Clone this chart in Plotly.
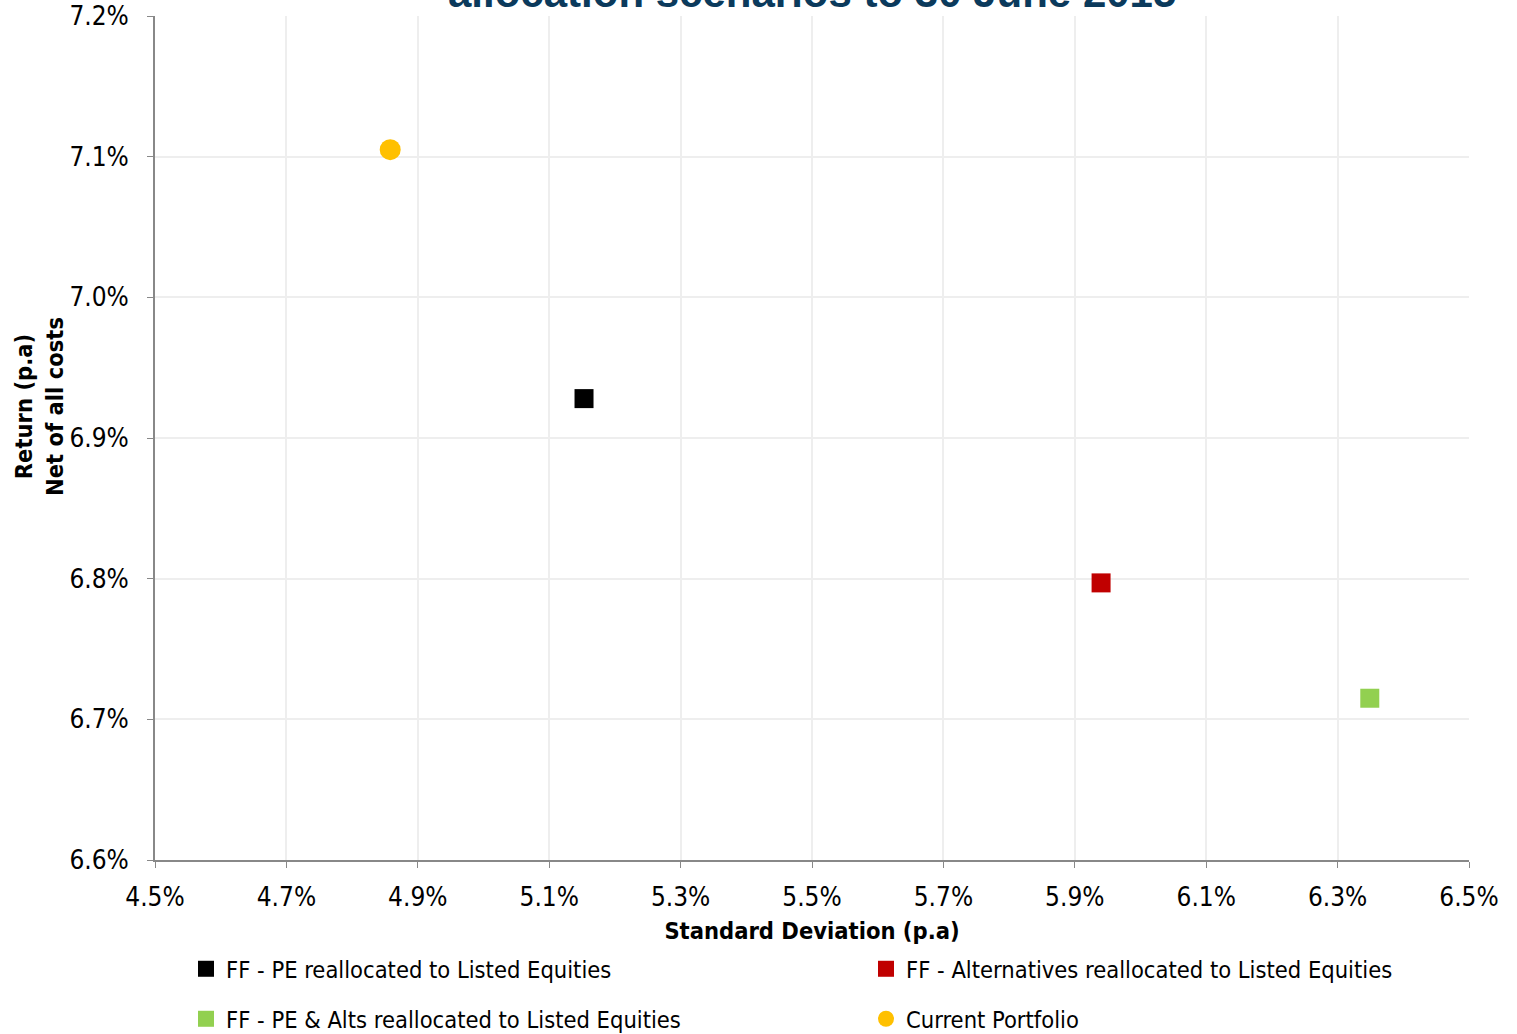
import plotly.graph_objects as go

# Data (percent)
series_names = [
    "FF - PE reallocated to Listed Equities",
    "FF - Alternatives reallocated to Listed Equities",
    "FF - PE & Alts reallocated to Listed Equities",
    "Current Portfolio",
]
std_dev = [5.153, 5.940, 6.349, 4.858]
returns = [6.928, 6.797, 6.715, 7.105]
colors = ["#000000", "#C00000", "#92D050", "#FFC000"]
symbols = ["square", "square", "square", "circle"]
sizes = [19, 19, 19, 21]

x_ticks = [4.5, 4.7, 4.9, 5.1, 5.3, 5.5, 5.7, 5.9, 6.1, 6.3, 6.5]
y_ticks = [6.6, 6.7, 6.8, 6.9, 7.0, 7.1, 7.2]

FONT = "Tahoma, 'DejaVu Sans Condensed', 'DejaVu Sans', sans-serif"
W, H = 1517, 1034

# legend slot positions (container pixels): (left x, row center y)
legend_ids = ["legend", "legend2", "legend3", "legend4"]
legend_pos = [(186, 969), (866, 969), (186, 1019), (866, 1019)]

fig = go.Figure()
for name, x, y, c, s, sz, lg in zip(series_names, std_dev, returns, colors, symbols, sizes, legend_ids):
    fig.add_trace(go.Scatter(
        x=[x], y=[y], mode="markers", name=name,
        marker=dict(color=c, symbol=s, size=sz, line=dict(width=0)),
        legend=lg,
    ))

legend_layout = {}
for lg, (lx, ly) in zip(legend_ids, legend_pos):
    legend_layout[lg] = dict(
        orientation="h", xref="container", yref="container",
        x=lx / W, y=1 - ly / H, xanchor="left", yanchor="middle",
        font=dict(family=FONT, size=23.5, color="#000000"),
        bgcolor="rgba(0,0,0,0)",
    )

fig.update_layout(
    width=W, height=H,
    margin=dict(l=155, r=48, t=16, b=174, autoexpand=False),
    paper_bgcolor="white", plot_bgcolor="white",
    font=dict(family=FONT, size=24, color="#000000"),
    showlegend=True,
    xaxis=dict(
        range=[4.5, 6.5], tickvals=x_ticks, ticktext=[f"{v:.1f}%" for v in x_ticks],
        showgrid=True, gridcolor="#EEEEEE", gridwidth=2,
        showline=True, linecolor="#888888", linewidth=2,
        ticks="outside", ticklen=6, tickcolor="#888888",
        tickfont=dict(family=FONT, size=26), ticklabelstandoff=7,
        zeroline=False, automargin=False,
        title=dict(text="<b>Standard Deviation (p.a)</b>", font=dict(family=FONT, size=23.5), standoff=11),
    ),
    yaxis=dict(
        range=[6.6, 7.2], tickvals=y_ticks, ticktext=[f"{v:.1f}%" for v in y_ticks],
        showgrid=True, gridcolor="#EEEEEE", gridwidth=2,
        showline=True, linecolor="#888888", linewidth=2,
        ticks="outside", ticklen=6, tickcolor="#888888",
        tickfont=dict(family=FONT, size=26), ticklabelstandoff=13,
        zeroline=False, automargin=False,
    ),
    **legend_layout,
)

fig.add_annotation(
    text="<b>Return (p.a)<br>Net of all costs</b>",
    xref="paper", yref="paper", x=0, y=(860 - 407) / 844,
    xshift=-116, xanchor="center", yanchor="middle",
    textangle=-90, showarrow=False,
    font=dict(family=FONT, size=23.5, color="#000000"),
)

fig.add_annotation(
    text="<b>Risk and return of asset<br>allocation scenarios to 30 June 2015</b>",
    xref="paper", yref="paper", x=0.5, y=1, yshift=-2,
    xanchor="center", yanchor="bottom", showarrow=False,
    font=dict(family="Arial, 'Liberation Sans', sans-serif", size=42, color="#0B3A5C"),
)

fig.write_html("out.html")
